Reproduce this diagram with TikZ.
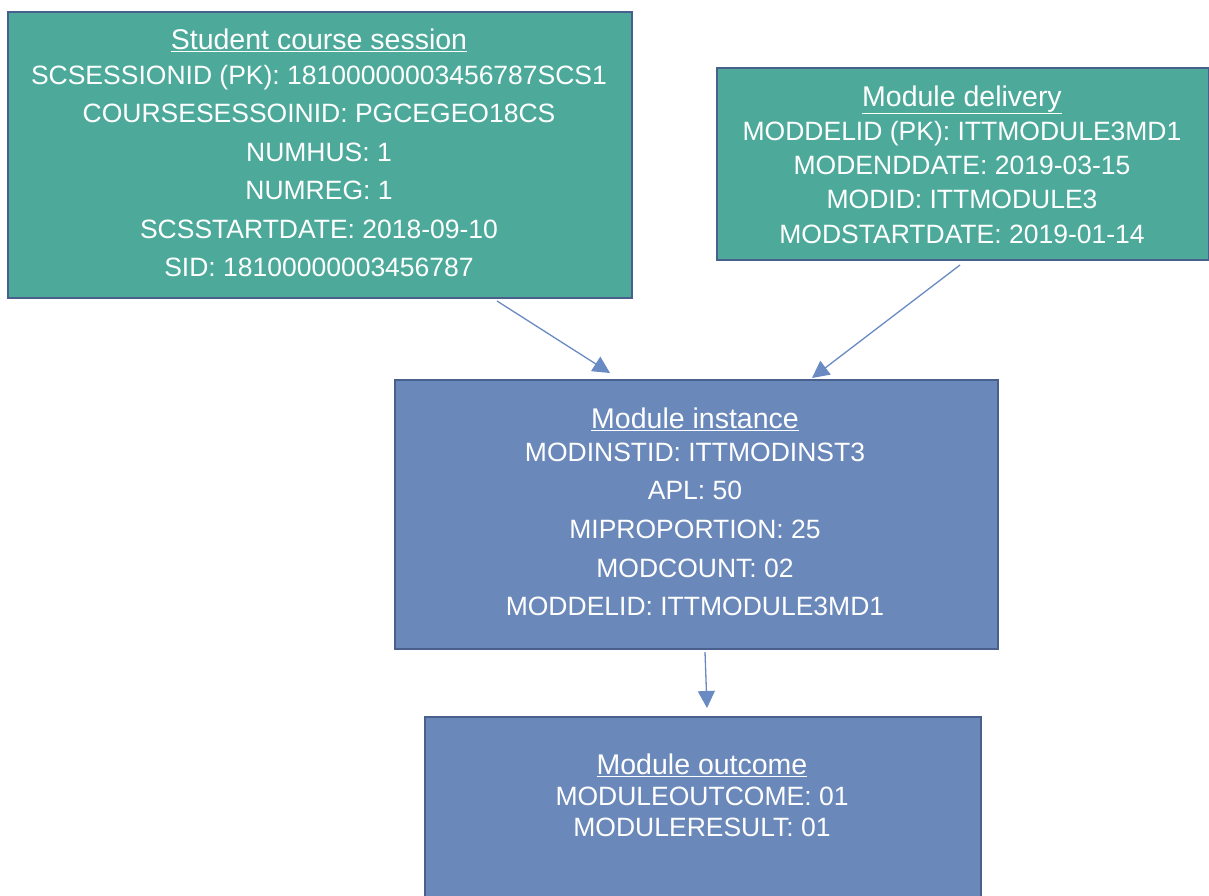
\documentclass[tikz,border=0pt]{standalone}
\usepackage{fontspec}
\setmainfont{Liberation Sans}
\usetikzlibrary{arrows.meta,calc}
\definecolor{tealfill}{RGB}{77,170,155}
\definecolor{bluefill}{RGB}{106,136,185}
\definecolor{bordc}{RGB}{74,96,140}
\definecolor{arrc}{RGB}{106,138,196}
\begin{document}
\begin{tikzpicture}[x=1pt,y=-1pt,
  box/.style={draw=bordc, line width=2pt, inner sep=0pt, anchor=north west},
  tealbox/.style={box, fill=tealfill},
  bluebox/.style={box, fill=bluefill},
  txt/.style={text=white, align=center, inner sep=0pt},
  conn/.style={draw=arrc, line width=1.3pt, -{Triangle[length=17pt,width=17pt]}}]
\clip (0,0) rectangle (1209,896);
\fill[white] (0,0) rectangle (1209,896);

\node[tealbox, minimum width=624pt, minimum height=286pt] (sc) at (7,11) {};
\node[tealbox, minimum width=492pt, minimum height=192pt] (md) at (716,67) {};
\node[bluebox, minimum width=603pt, minimum height=269pt] (mi) at (394,379) {};
\node[bluebox, minimum width=556pt, minimum height=200pt] (mo) at (424,716) {};

\node[txt, font=\fontsize{26.5}{38.5}\selectfont] (sct) at (319,153)
  {{\fontsize{28.5}{38.5}\selectfont\underline{Student course session}}\\[-4pt]
   SCSESSIONID (PK): 18100000003456787SCS1\\
   COURSESESSOINID: PGCEGEO18CS\\
   NUMHUS: 1\\
   NUMREG: 1\\
   SCSSTARTDATE: 2018-09-10\\
   SID: 18100000003456787};

\node[txt, font=\fontsize{26.5}{34.3}\selectfont] (mdt) at (962,164.5)
  {{\fontsize{28.5}{34.3}\selectfont\underline{Module delivery}}\\
   MODDELID (PK): ITTMODULE3MD1\\
   MODENDDATE: 2019-03-15\\
   MODID: ITTMODULE3\\
   MODSTARTDATE: 2019-01-14};

\node[txt, font=\fontsize{26.5}{38.7}\selectfont] (mit) at (695,512)
  {{\fontsize{28.5}{38.7}\selectfont\underline{Module instance}}\\[-6pt]
   MODINSTID: ITTMODINST3\\
   APL: 50\\
   MIPROPORTION: 25\\
   MODCOUNT: 02\\
   MODDELID: ITTMODULE3MD1};

\node[txt, font=\fontsize{26.5}{31}\selectfont] (mot) at (702,795)
  {{\fontsize{28.5}{31}\selectfont\underline{Module outcome}}\\
   MODULEOUTCOME: 01\\
   MODULERESULT: 01};

\coordinate (a1s) at ($(sc.south west)+(490,2)$);
\coordinate (a1e) at ($(mi.north west)+(216,-6)$);
\coordinate (a2s) at ($(md.south west)+(244,4)$);
\coordinate (a2e) at ($(mi.north west)+(418,-1)$);
\coordinate (a3s) at ($(mi.south west)+(311,2)$);
\coordinate (a3e) at ($(mo.north west)+(283,-8)$);

\draw[conn] (a1s) -- (a1e);
\draw[conn] (a2s) -- (a2e);
\draw[conn] (a3s) -- (a3e);
\end{tikzpicture}
\end{document}
